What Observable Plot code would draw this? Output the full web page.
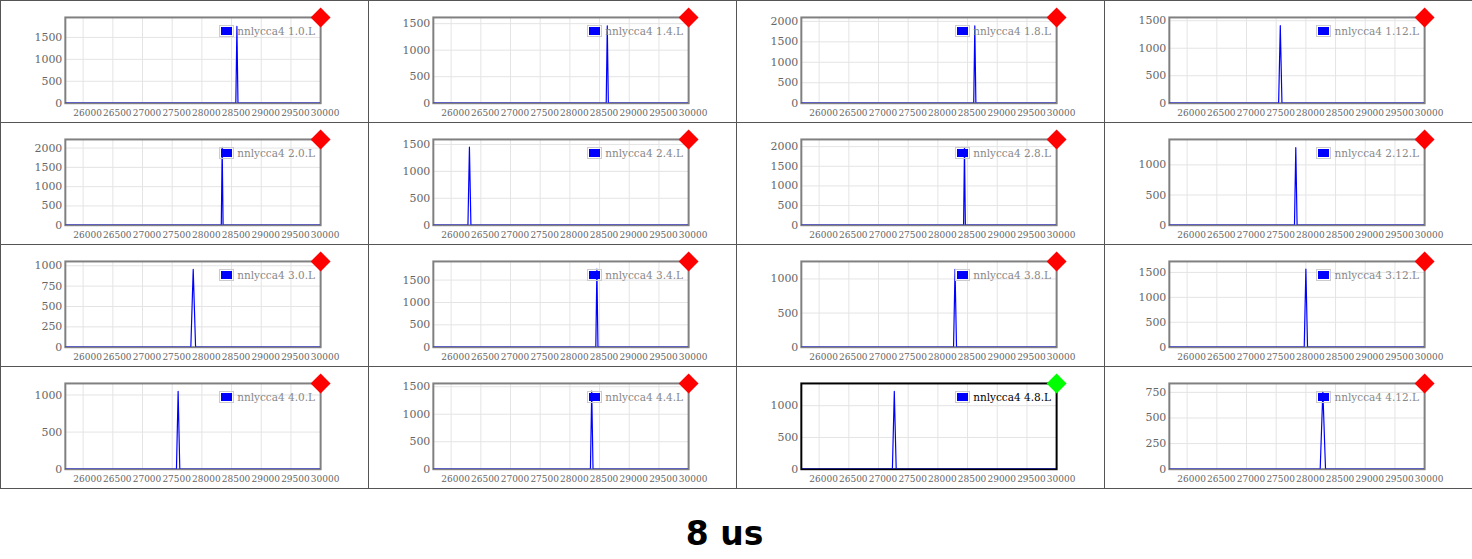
<!DOCTYPE html>
<html><head><meta charset="utf-8">
<script src="https://cdn.jsdelivr.net/npm/d3@7"></script>
<script src="https://cdn.jsdelivr.net/npm/@observablehq/plot@0.6"></script>
<style>
html,body{margin:0;padding:0;background:#fff;}
#grid{position:absolute;left:0;top:0;width:1472px;height:490px;}
.cell{position:absolute;box-sizing:border-box;width:369px;height:123px;border:1px solid #555;}
.cell svg{position:absolute;left:-1px;top:-1px;overflow:visible;}
.legend{position:absolute;top:23px;right:53px;display:flex;align-items:center;font-family:"DejaVu Serif",serif;font-size:10.5px;color:#888;white-space:nowrap;line-height:14px;}
.legend .sw{display:inline-block;box-sizing:border-box;width:15px;height:12px;border:1px solid #ccc;padding:1px;background:blue;background-clip:content-box;margin-right:3px;}
#title{position:absolute;left:0;top:514px;width:1449px;text-align:center;font-family:"DejaVu Sans",sans-serif;font-weight:bold;font-size:33px;color:#000;}
</style>
</head><body>
<div id="grid"></div>
<div id="title">8 us</div>
<script>
// panel labels (row-major, 4 x 4)
const labels = ["1.0.L","1.4.L","1.8.L","1.12.L",
                "2.0.L","2.4.L","2.8.L","2.12.L",
                "3.0.L","3.4.L","3.8.L","3.12.L",
                "4.0.L","4.4.L","4.8.L","4.12.L"];
const seriesPrefix = "nnlycca4";
// status of each panel (diamond colour)
const status = ["bad","bad","bad","bad","bad","bad","bad","bad",
                "bad","bad","bad","bad","bad","bad","ok","bad"];
const selected = "4.8.L";
// x tick labels
const xTicks = [26000,26500,27000,27500,28000,28500,29000,29500,30000];
const xDomain = [25700, 30000];
// y-axis upper bound and tick step per panel
const yMax  = [1955,1617,2096,1560, 2224,1593,2183,1421, 1053,1917,1256,1720, 1156,1560,1350,837];
const yStep = [500,500,500,500, 500,500,500,500, 250,500,500,500, 500,500,500,250];
// traces: x values and intensities per panel
const traceX = [
  [25700,28572,28590,28608,30000],
  [25700,28612,28630,28648,30000],
  [25700,28604,28622,28640,30000],
  [25700,27541,27569,27597,30000],
  [25700,28327,28342,28357,30000],
  [25700,26283,26308,26333,30000],
  [25700,28433,28448,28463,30000],
  [25700,27808,27830,27852,30000],
  [25700,27814,27854,27894,30000],
  [25700,28437,28455,28473,30000],
  [25700,28264,28289,28314,30000],
  [25700,27972,28000,28028,30000],
  [25700,27572,27600,27628,30000],
  [25700,28346,28368,28390,30000],
  [25700,27234,27266,27298,30000],
  [25700,28241,28286,28331,30000]
];
const traceY = [
  [0,0,1750,0,0],
  [0,0,1460,0,0],
  [0,0,1890,0,0],
  [0,0,1410,0,0],
  [0,0,2020,0,0],
  [0,0,1450,0,0],
  [0,0,1975,0,0],
  [0,0,1285,0,0],
  [0,0,955,0,0],
  [0,0,1745,0,0],
  [0,0,1140,0,0],
  [0,0,1565,0,0],
  [0,0,1050,0,0],
  [0,0,1420,0,0],
  [0,0,1224,0,0],
  [0,0,760,0,0]
];
const statusColor = {ok: "#00ff00", bad: "#ff0000"};

const grid = document.getElementById("grid");
labels.forEach((lab, i) => {
  const col = i % 4, row = Math.floor(i / 4);
  const cell = document.createElement("div");
  cell.className = "cell";
  cell.style.left = (col * 368) + "px";
  cell.style.top = (row * 122) + "px";
  const isSel = lab === selected;
  const pts = traceX[i].map((x, j) => ({x, y: traceY[i][j]}));
  const yTicks = d3.range(0, yMax[i] + 1, yStep[i]);
  const fmt = d => String(d);
  const chart = Plot.plot({
    width: 368, height: 122,
    marginLeft: 65, marginRight: 47, marginTop: 17, marginBottom: 19,
    style: {fontFamily: "'DejaVu Serif', serif", fontSize: "11px", color: "#666", background: "transparent", overflow: "visible"},
    x: {domain: xDomain, label: null},
    y: {domain: [0, yMax[i]], label: null},
    marks: [
      Plot.gridX(xTicks, {stroke: "#e4e4e4", strokeOpacity: 1, strokeWidth: 1}),
      Plot.gridY(yTicks, {stroke: "#e4e4e4", strokeOpacity: 1, strokeWidth: 1}),
      Plot.axisX(xTicks, {tickSize: 0, tickPadding: 6, dx: 4.5, tickFormat: fmt, label: null, fill: "#666", fontSize: 9}),
      Plot.axisY(yTicks, {tickSize: 0, tickPadding: 3, tickFormat: fmt, label: null, fill: "#666"}),
      Plot.frame({stroke: isSel ? "#000" : "#808080", strokeWidth: 2}),
      Plot.line(pts, {x: "x", y: "y", stroke: "blue", strokeWidth: 1.2, clip: true}),
      Plot.dot([lab], {frameAnchor: "top-right", symbol: "diamond2", r: 9, fill: statusColor[status[i]], stroke: "none"})
    ]
  });
  cell.appendChild(chart);
  const leg = document.createElement("div");
  leg.className = "legend";
  leg.style.color = isSel ? "#000" : "#888";
  leg.innerHTML = '<span class="sw"></span><span></span>';
  leg.lastChild.textContent = seriesPrefix + " " + lab;
  cell.appendChild(leg);
  grid.appendChild(cell);
});
</script>
</body></html>
